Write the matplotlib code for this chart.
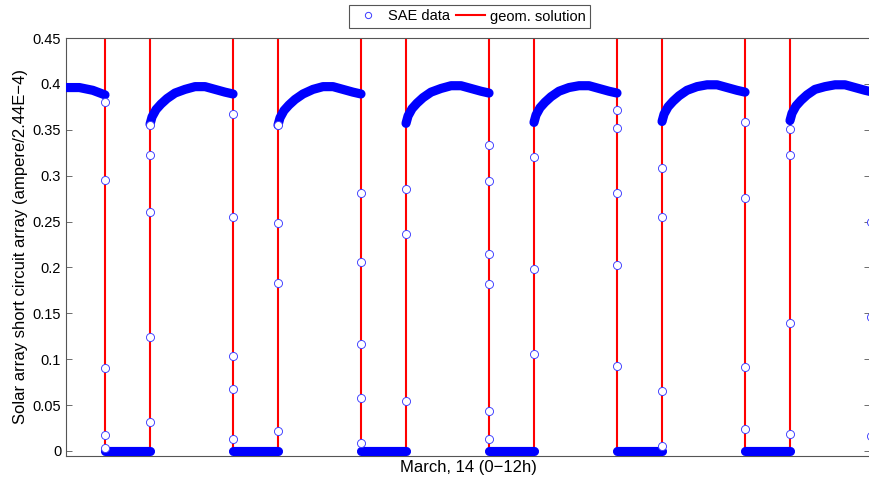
import numpy as np
import matplotlib.pyplot as plt
from matplotlib.lines import Line2D

plt.rcParams['font.family'] = ['Liberation Sans', 'DejaVu Sans']

# eclipse entry / exit times (hours)
entry_h = [0.582, 2.493, 4.403, 6.313, 8.224, 10.134, 12.015]
exit_h = [1.254, 3.164, 5.075, 6.985, 8.896, 10.806]

# sunlit arcs: samples after each eclipse exit (hours after exit)
arc_offset_h = [0, 0.030, 0.090, 0.164, 0.254, 0.373, 0.522, 0.672, 0.821, 0.970, 1.119, 1.239]
arc1 = [0.356, 0.364, 0.372, 0.378, 0.384, 0.390, 0.394, 0.397, 0.397, 0.394, 0.391, 0.389]
arc2 = [0.355, 0.363, 0.371, 0.377, 0.383, 0.389, 0.394, 0.397, 0.397, 0.394, 0.391, 0.389]
arc3 = [0.357, 0.365, 0.373, 0.379, 0.385, 0.391, 0.395, 0.398, 0.398, 0.395, 0.392, 0.390]
arc4 = [0.358, 0.366, 0.374, 0.380, 0.386, 0.392, 0.396, 0.398, 0.398, 0.395, 0.392, 0.390]
arc5 = [0.359, 0.367, 0.375, 0.381, 0.387, 0.393, 0.397, 0.399, 0.399, 0.396, 0.393, 0.391]
arc6 = [0.360, 0.368, 0.376, 0.382, 0.388, 0.394, 0.397, 0.399, 0.399, 0.396, 0.393, 0.391]
arcs = [arc1, arc2, arc3, arc4, arc5, arc6]

# partial arc before the first eclipse
first_arc_h = [0.0, 0.2, 0.4, 0.582]
first_arc = [0.396, 0.396, 0.393, 0.388]

# isolated samples during the transitions
entry_pts = [
    [0.380, 0.295, 0.090, 0.017, 0.003],
    [0.367, 0.255, 0.103, 0.067, 0.013],
    [0.281, 0.206, 0.117, 0.058, 0.009],
    [0.333, 0.294, 0.215, 0.182, 0.043, 0.013],
    [0.371, 0.352, 0.281, 0.203, 0.093],
    [0.359, 0.276, 0.092, 0.024],
    [0.249, 0.146, 0.016],
]
exit_pts = [
    [0.032, 0.124, 0.260, 0.322, 0.355],
    [0.022, 0.183, 0.248, 0.355],
    [0.054, 0.236, 0.285],
    [0.106, 0.198, 0.320],
    [0.005, 0.065, 0.255, 0.308],
    [0.018, 0.139, 0.322, 0.351],
]

yticks = [0, 0.05, 0.1, 0.15, 0.2, 0.25, 0.3, 0.35, 0.4, 0.45]
ytick_labels = ['0', '0.05', '0.1', '0.15', '0.2', '0.25', '0.3', '0.35', '0.4', '0.45']

blue = '#0000ff'
red = '#ff0000'

fig = plt.figure(figsize=(8.69, 4.79), dpi=100)
ax = fig.add_axes([66 / 869, 23 / 479, 804 / 869, 418 / 479])

# geometric solution as a step signal (high level off the top of the axes)
high = 0.6
gx, gy = [0], [high]
for i, t in enumerate(entry_h):
    gx += [t, t]
    gy += [high, 0]
    if i < len(exit_h):
        gx += [exit_h[i], exit_h[i]]
        gy += [0, high]
    else:
        gx += [12.5]
        gy += [0]
ax.plot(gx, gy, color=red, lw=1.5, zorder=2)

# dense SAE samples drawn as a thick band
band = dict(color=blue, lw=6.6, solid_capstyle='round', solid_joinstyle='round', zorder=3)
ax.plot(first_arc_h, first_arc, **band)
for i, vals in enumerate(arcs):
    ax.plot(np.array(arc_offset_h) + exit_h[i], vals, **band)
for i in range(len(exit_h)):
    ax.plot([entry_h[i], exit_h[i]], [0, 0], **band)

# sparse transition samples
mk = dict(ls='none', marker='o', ms=5.8, mfc='white', mec='#3a3aff', mew=0.65, zorder=4)
for t, vals in zip(entry_h, entry_pts):
    ax.plot([t] * len(vals), vals, **mk)
for t, vals in zip(exit_h, exit_pts):
    ax.plot([t] * len(vals), vals, **mk)

ax.set_xlim(0, 12)
ax.set_ylim(-0.0055, 0.45)
ax.set_xticks([])
ax.set_yticks(yticks)
ax.set_yticklabels(ytick_labels)
ax.tick_params(axis='y', direction='in', left=True, right=True, length=4,
               width=0.6, color='#555555', labelsize=10.5, labelcolor='black')
for sp in ax.spines.values():
    sp.set_color('#555555')
    sp.set_linewidth(0.8)

ax.set_xlabel('March, 14 (0\u221212h)', fontsize=12, labelpad=3)
ax.set_ylabel('Solar array short circuit array (ampere/2.44E\u22124)', fontsize=12, labelpad=3)

handles = [Line2D([], [], ls='none', marker='o', ms=4.5, mfc='white', mec='#3a3aff', mew=0.7),
           Line2D([], [], color=red, lw=1.5)]
leg = fig.legend(handles, ['SAE data', 'geom. solution'], loc='center',
                 bbox_to_anchor=(469.5 / 869, 1 - 16.5 / 479), ncol=2, fontsize=10.5,
                 frameon=True, fancybox=False, edgecolor='#555555', framealpha=1,
                 handlelength=2.0, handletextpad=0.35, columnspacing=0.4, borderpad=0.3)
leg.get_frame().set_linewidth(0.8)

fig.savefig('out.png', dpi=100)
